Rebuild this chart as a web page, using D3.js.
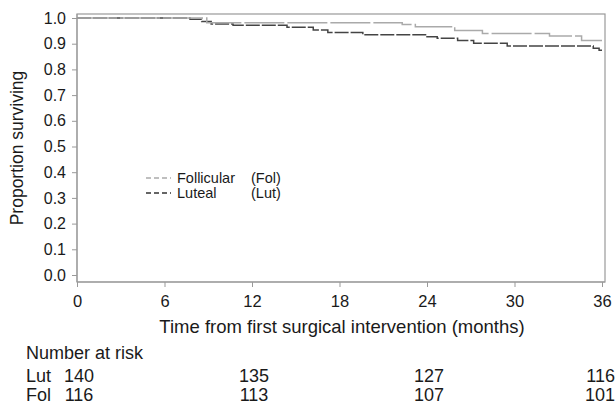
<!DOCTYPE html>
<html>
<head>
  <title>Survival curves</title>
  <script src="https://d3js.org/d3.v7.min.js"></script>
  <style>
    body { margin: 0; background: #fff; }
    text { font-family: "Liberation Sans", Arial, sans-serif; fill: #1a1a1a; }
  </style>
</head>
<body>
  <svg id="chart"></svg>
  <script>
    // Kaplan-Meier steps: [time (months), proportion]
    const follicular = [[0, 1.0], [8.9, 0.982], [22.3, 0.975], [23.2, 0.966], [25.9, 0.951],
                        [27.8, 0.940], [32.4, 0.930], [34.6, 0.912], [36, 0.912]];
    const luteal = [[0, 1.0], [7.75, 0.995], [8.55, 0.986], [9.2, 0.977], [10.7, 0.972],
                    [14.4, 0.964], [16.2, 0.953], [17.2, 0.944], [19.6, 0.935], [23.9, 0.927],
                    [24.7, 0.921], [26.1, 0.912], [27.2, 0.902], [29.5, 0.891], [35.4, 0.882],
                    [35.8, 0.875], [36, 0.875]];

    const xTicks = [0, 6, 12, 18, 24, 30, 36];
    const yTicks = [0, 0.1, 0.2, 0.3, 0.4, 0.5, 0.6, 0.7, 0.8, 0.9, 1.0];

    // Number at risk table
    const riskTimes = [0, 12, 24, 36];
    const riskLut = [140, 135, 127, 116];
    const riskFol = [116, 113, 107, 101];

    const width = 616, height = 410;
    const svg = d3.select("#chart")
      .attr("width", width)
      .attr("height", height);

    const xScale = d3.scaleLinear().domain([0, 36]).range([77, 602]);
    const yScale = d3.scaleLinear().domain([0, 1]).range([275, 18]);

    const frame = { left: 77, right: 605, top: 14, bottom: 282 };

    // plot frame
    svg.append("rect")
      .attr("x", frame.left)
      .attr("y", frame.top)
      .attr("width", frame.right - frame.left)
      .attr("height", frame.bottom - frame.top)
      .attr("fill", "none")
      .attr("stroke", "#999")
      .attr("stroke-width", 1.2);

    // y axis
    const yAxis = svg.append("g")
      .attr("transform", `translate(${frame.left},0)`)
      .call(d3.axisLeft(yScale).tickValues(yTicks).tickFormat(d3.format(".1f")).tickSize(5).tickPadding(6));
    yAxis.select(".domain").attr("stroke", "#999").attr("d", `M0,${frame.top}V${frame.bottom}`);
    yAxis.selectAll(".tick line").attr("stroke", "#999");
    yAxis.selectAll("text").style("font-size", "16px").attr("fill", "#1a1a1a");

    // x axis
    const xAxis = svg.append("g")
      .attr("transform", `translate(0,${frame.bottom})`)
      .call(d3.axisBottom(xScale).tickValues(xTicks).tickSize(5).tickPadding(8));
    xAxis.select(".domain").attr("stroke", "#999").attr("d", `M${frame.left},0H${frame.right}`);
    xAxis.selectAll(".tick line").attr("stroke", "#999");
    xAxis.selectAll("text").style("font-size", "16.5px").attr("fill", "#1a1a1a");

    // axis titles
    svg.append("text")
      .attr("transform", `translate(23,${(frame.top + frame.bottom) / 2}) rotate(-90)`)
      .attr("text-anchor", "middle")
      .style("font-size", "17.5px")
      .text("Proportion surviving");

    svg.append("text")
      .attr("x", 342)
      .attr("y", 333)
      .attr("text-anchor", "middle")
      .style("font-size", "18.5px")
      .text("Time from first surgical intervention (months)");

    // step curves (luteal first so the light follicular line sits on top)
    const line = d3.line()
      .x(d => xScale(d[0]))
      .y(d => yScale(d[1]))
      .curve(d3.curveStepAfter);

    svg.append("path")
      .datum(luteal)
      .attr("d", line)
      .attr("fill", "none")
      .attr("stroke", "#444")
      .attr("stroke-width", 1.5)
      .attr("stroke-dasharray", "14,2");

    svg.append("path")
      .datum(follicular)
      .attr("d", line)
      .attr("fill", "none")
      .attr("stroke", "#aaa")
      .attr("stroke-width", 1.5)
      .attr("stroke-dasharray", "40,3");

    // legend
    const legendItems = [
      { name: "Follicular", code: "(Fol)", color: "#aaa" },
      { name: "Luteal", code: "(Lut)", color: "#333" }
    ];
    const legend = svg.selectAll(".legend")
      .data(legendItems)
      .enter().append("g")
      .attr("class", "legend")
      .attr("transform", (d, i) => `translate(0,${178 + i * 15})`);

    legend.append("line")
      .attr("x1", 146).attr("x2", 171)
      .attr("y1", 0).attr("y2", 0)
      .attr("stroke", d => d.color)
      .attr("stroke-width", 1.3)
      .attr("stroke-dasharray", "5,3");

    legend.append("text")
      .attr("x", 177).attr("y", 5)
      .style("font-size", "14.5px")
      .text(d => d.name);

    legend.append("text")
      .attr("x", 251).attr("y", 5)
      .style("font-size", "14.5px")
      .text(d => d.code);

    // number at risk
    svg.append("text")
      .attr("x", 26).attr("y", 359)
      .style("font-size", "18px")
      .text("Number at risk");

    const rows = [["Lut", riskLut, 382], ["Fol", riskFol, 401]];
    rows.forEach(function(r) {
      svg.append("text")
        .attr("x", 26).attr("y", r[2])
        .style("font-size", "18px")
        .text(r[0]);
      svg.selectAll(null)
        .data(r[1])
        .enter().append("text")
        .attr("x", (d, i) => i === riskTimes.length - 1 ? 615 : xScale(riskTimes[i]) + 2)
        .attr("y", r[2])
        .attr("text-anchor", (d, i) => i === riskTimes.length - 1 ? "end" : "middle")
        .style("font-size", "18px")
        .text(d => d);
    });
  </script>
</body>
</html>
